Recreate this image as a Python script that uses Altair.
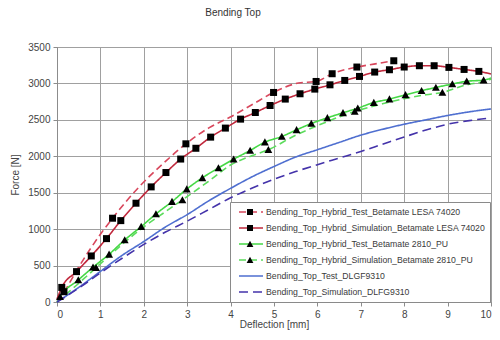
import altair as alt
import pandas as pd

names = [
    "Bending_Top_Hybrid_Test_Betamate LESA 74020",
    "Bending_Top_Hybrid_Simulation_Betamate LESA 74020",
    "Bending_Top_Hybrid_Test_Betamate 2810_PU",
    "Bending_Top_Hybrid_Simulation_Betamate 2810_PU",
    "Bending_Top_Test_DLGF9310",
    "Bending_Top_Simulation_DLFG9310",
]
colors = ["#D8475C", "#C0283C", "#45D845", "#5CDC5C", "#4F6FD0", "#4433AA"]
dashes = [[7, 4], [1, 0], [1, 0], [7, 4], [1, 0], [9, 5]]
widths = [1.6, 1.6, 2.0, 2.0, 1.5, 2.0]

x_ticks = list(range(0, 11))
y_ticks = list(range(0, 3501, 500))

# Series 1: red dashed, sparse markers
x1 = [0, 0.16, 0.5, 1.0, 1.28, 1.9, 2.5, 2.97, 3.5, 4.03, 4.5, 4.99, 5.56, 5.97, 6.34, 6.91, 7.3, 7.76]
y1 = [20, 141, 480, 930, 1150, 1585, 1930, 2171, 2390, 2550, 2710, 2876, 3005, 3027, 3133, 3225, 3265, 3311]
m1 = [0, 1, 0, 0, 1, 0, 0, 1, 0, 0, 0, 1, 0, 1, 1, 1, 0, 1]

# Series 2: red solid, dense markers
x2 = [0.0, 0.11, 0.45, 0.79, 1.14, 1.47, 1.82, 2.17, 2.51, 2.85, 3.2, 3.54, 3.88, 4.23, 4.57, 4.91,
      5.26, 5.6, 5.94, 6.29, 6.63, 6.97, 7.32, 7.66, 8.0, 8.35, 8.69, 9.03, 9.38, 9.72, 10.0]
y2 = [40, 200, 417, 632, 870, 1117, 1356, 1580, 1777, 1962, 2110, 2263, 2387, 2510, 2601, 2697,
      2785, 2858, 2922, 2981, 3041, 3096, 3156, 3188, 3225, 3243, 3243, 3220, 3192, 3165, 3130]
m2 = [0] + [1] * 29 + [0]

# Series 3: green solid, dense markers
x3 = [0.0, 0.07, 0.49, 0.83, 1.2, 1.56, 1.94, 2.28, 2.65, 2.99, 3.35, 3.72, 4.07, 4.45, 4.79, 5.18,
      5.52, 5.86, 6.23, 6.59, 6.93, 7.3, 7.66, 8.03, 8.4, 8.73, 9.11, 9.44, 9.83, 10.0]
y3 = [0, 73, 302, 477, 655, 852, 1035, 1209, 1378, 1550, 1705, 1840, 1960, 2080, 2194, 2272,
      2363, 2450, 2528, 2597, 2660, 2738, 2785, 2844, 2900, 2945, 2992, 3030, 3045, 3075]
m3 = [0] + [1] * 28 + [0]

# Series 4: green dashed, sparse markers
x4 = [0.0, 0.45, 0.9, 1.5, 2.0, 2.5, 2.89, 3.5, 4.0, 4.5, 4.87, 5.5, 6.0, 6.5, 6.86, 7.5, 8.0, 8.5,
      8.88, 9.4, 9.83, 10.0]
y4 = [0, 230, 470, 790, 1030, 1240, 1401, 1660, 1880, 2010, 2090, 2290, 2420, 2540, 2615, 2720,
      2790, 2845, 2876, 2975, 3027, 3060]
m4 = [0, 0, 1, 0, 0, 0, 1, 0, 0, 0, 1, 0, 0, 0, 1, 0, 0, 0, 1, 0, 0, 0]

# Series 5: blue solid
x5 = [0, 0.5, 1, 1.5, 2, 2.5, 3, 3.5, 4, 4.5, 5, 5.5, 6, 6.5, 7, 7.5, 8, 8.5, 9, 9.5, 10]
y5 = [0, 200, 420, 640, 830, 1030, 1200, 1390, 1560, 1720, 1860, 1990, 2090, 2190, 2290, 2370,
      2440, 2500, 2560, 2610, 2650]
m5 = [0] * 21

# Series 6: blue dashed
x6 = [0, 0.5, 1, 1.5, 2, 2.5, 3, 3.5, 4, 4.5, 5, 5.5, 6, 6.5, 7, 7.5, 8, 8.5, 9, 9.5, 10]
y6 = [0, 190, 400, 600, 790, 960, 1110, 1270, 1430, 1565, 1685, 1790, 1885, 1975, 2065, 2165,
      2265, 2360, 2440, 2490, 2525]
m6 = [0] * 21

xs = [x1, x2, x3, x4, x5, x6]
ys = [y1, y2, y3, y4, y5, y6]
ms = [m1, m2, m3, m4, m5, m6]

SQ = "M-0.25,-0.25H0.25V0.25H-0.25Z"
TRI = "M0,-0.27L0.28,0.24H-0.28Z"
NONE = "M0,0Z"
shapes = [SQ, SQ, TRI, TRI, NONE, NONE]
mkeys = [n + " " for n in names]

rows = []
for i, name in enumerate(names):
    for j, (x, y, m) in enumerate(zip(xs[i], ys[i], ms[i])):
        rows.append({"series": name, "mkey": mkeys[i], "x": x, "y": y, "m": m, "order": j})
df = pd.DataFrame(rows)

FONT = "Liberation Sans"
LX, LY = 173, 155

leg_a = alt.Legend(
    title=None, orient="none", legendX=LX, legendY=LY, fillColor="white",
    strokeColor="#8a8a8a", padding=4, labelFont=FONT, labelFontSize=8.7, labelColor="#3a3a3a",
    symbolSize=576, symbolType="stroke", symbolStrokeWidth=1.6, clipHeight=12, rowPadding=4,
    labelOffset=2, symbolOffset=4, labelLimit=400, zindex=1,
)
leg_b = alt.Legend(
    title=None, orient="none", legendX=LX, legendY=LY, padding=4, labelFont=FONT,
    labelFontSize=8.7, symbolSize=576, symbolFillColor="black",
    symbolStrokeColor="black", symbolStrokeWidth=0, clipHeight=12, rowPadding=4,
    labelOffset=2, symbolOffset=4, labelLimit=400, zindex=2,
    labelExpr="''",
)

xenc = alt.X("x:Q", scale=alt.Scale(domain=[0, 10], nice=False),
             axis=alt.Axis(title="Deflection [mm]", values=x_ticks, format="d", labelOverlap=False))
yenc = alt.Y("y:Q", scale=alt.Scale(domain=[0, 3500], nice=False),
             axis=alt.Axis(title="Force [N]", values=y_ticks, format="d", labelOverlap=False))

lines = alt.Chart(df).mark_line(interpolate="monotone").encode(
    x=xenc, y=yenc,
    color=alt.Color("series:N", scale=alt.Scale(domain=names, range=colors), legend=leg_a),
    strokeDash=alt.StrokeDash("series:N", scale=alt.Scale(domain=names, range=dashes), legend=leg_a),
    strokeWidth=alt.StrokeWidth("series:N", scale=alt.Scale(domain=names, range=widths), legend=None),
    order="order:Q",
)

points = alt.Chart(df).transform_filter("datum.m == 1").mark_point(
    filled=True, color="black", opacity=1, size=784
).encode(
    x=xenc, y=yenc,
    shape=alt.Shape("mkey:N", scale=alt.Scale(domain=mkeys, range=shapes), legend=leg_b),
)

chart = alt.layer(lines, points).properties(
    width=434, height=255,
    autosize=alt.AutoSizeParams(type="none"),
    padding={"left": 49, "top": 39, "right": 1, "bottom": 30},
    title=alt.TitleParams("Bending Top", fontSize=10, fontWeight="normal", color="#333333",
                          font=FONT, anchor="middle", frame="group", offset=24, dx=-41),
).configure_view(stroke="#8c8c8c", strokeWidth=1).configure_axis(
    grid=True, gridColor="#a0a0a0", gridWidth=1, gridOpacity=1,
    domainColor="#8c8c8c", tickColor="#8c8c8c", tickSize=4,
    labelFont=FONT, labelFontSize=10, labelColor="#444444",
    titleFont=FONT, titleFontSize=10, titleFontWeight="normal", titleColor="#444444",
    labelPadding=3,
).configure_axisY(titlePadding=7).configure_axisX(titlePadding=0, labelPadding=3)

chart.save("out.html", embed_options={"renderer": "svg", "actions": False})
